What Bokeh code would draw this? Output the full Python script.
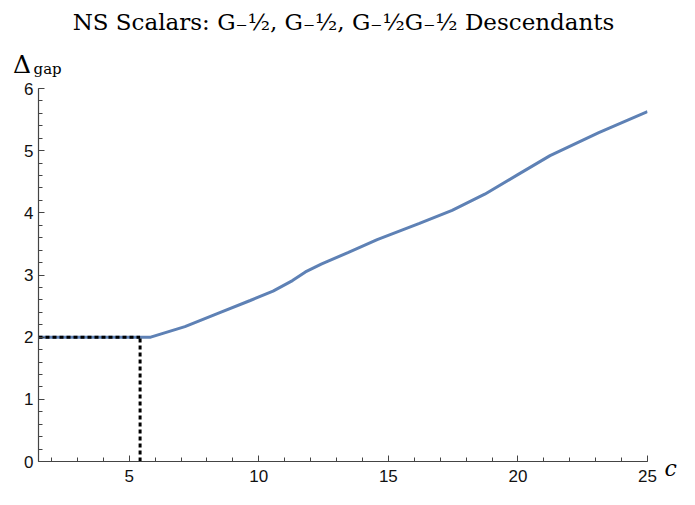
from bokeh.plotting import figure
from bokeh.models import Range1d, SingleIntervalTicker, Label, ColumnDataSource
from bokeh.embed import file_html
from bokeh.resources import INLINE

# Data
c_vals = [1.5, 5.83, 7.15, 8.4, 9.67, 10.55, 11.3, 11.8, 12.43, 13.44, 14.57,
          16.2, 17.46, 18.72, 19.98, 21.24, 23.12, 25.0]
gap_vals = [2.0, 2.0, 2.17, 2.38, 2.59, 2.74, 2.91, 3.05, 3.18, 3.36, 3.57,
            3.83, 4.04, 4.30, 4.61, 4.92, 5.29, 5.63]
c_crit = 5.42
gap_crit = 2.0
x_ticks_interval = 5
y_ticks_interval = 1
title_text = "NS Scalars: G\u208b\u00bd, G\u208b\u00bd, G\u208b\u00bdG\u208b\u00bd Descendants"

p = figure(width=679, height=489, output_backend="svg", toolbar_location=None,
           x_range=Range1d(1.5, 25), y_range=Range1d(0, 6), title=None,
           min_border_left=38, min_border_right=32, min_border_top=88, min_border_bottom=28)
p.outline_line_color = None
p.xgrid.visible = False
p.ygrid.visible = False

for ax in (p.xaxis[0], p.yaxis[0]):
    ax.axis_line_color = "#444444"
    ax.axis_line_width = 1.2
    ax.major_tick_line_color = "#444444"
    ax.minor_tick_line_color = "#444444"
    ax.major_tick_in = 6
    ax.major_tick_out = 0
    ax.minor_tick_in = 4
    ax.minor_tick_out = 0
    ax.major_label_text_font = "Liberation Sans"
    ax.major_label_text_font_size = "17px"
    ax.major_label_text_color = "#111111"
p.xaxis[0].major_label_standoff = 8
p.yaxis[0].major_label_standoff = 5

p.xaxis[0].ticker = SingleIntervalTicker(interval=x_ticks_interval, num_minor_ticks=5)
p.yaxis[0].ticker = SingleIntervalTicker(interval=y_ticks_interval, num_minor_ticks=5)

src = ColumnDataSource(dict(c=c_vals, gap=gap_vals))
p.line("c", "gap", source=src, line_color="#5E81B5", line_width=3)

# Dashed guide lines at the critical point
p.line([1.5, c_crit], [gap_crit, gap_crit], line_color="black", line_width=3, line_dash="4 3")
p.line([c_crit, c_crit], [0, gap_crit], line_color="black", line_width=3, line_dash="4 3")

# Texts outside the frame live in side panels (not clipped); positioned via frame scales
serif = "DejaVu Serif"
p.add_layout(Label(x=13.27, y=7.07, text=title_text,
                   text_align="center", text_baseline="alphabetic", text_font=serif,
                   text_font_size="23px", text_color="black"), "above")
p.add_layout(Label(x=0.52, y=6.386, text="\u0394",
                   text_align="left", text_baseline="alphabetic", text_font=serif,
                   text_font_size="25px", text_color="black"), "above")
p.add_layout(Label(x=1.31, y=6.32, text="gap",
                   text_align="left", text_baseline="alphabetic", text_font=serif,
                   text_font_size="15px", text_color="black"), "above")
p.add_layout(Label(x=25.66, y=-0.105, text="c",
                   text_align="left", text_baseline="alphabetic", text_font=serif,
                   text_font_size="22px", text_font_style="italic", text_color="black"), "right")

open("out.html", "w").write(file_html(p, INLINE))
